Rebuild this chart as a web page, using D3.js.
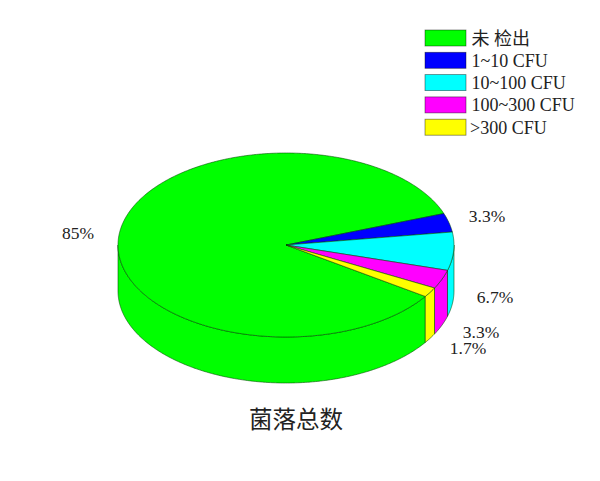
<!DOCTYPE html>
<html>
<head>
<meta charset="utf-8">
<script src="https://cdn.jsdelivr.net/npm/d3@7"></script>
<style>
  html, body { margin: 0; padding: 0; background: #fff; }
  text { font-family: "Liberation Serif", "Noto Sans CJK SC", serif; fill: #222; }
</style>
</head>
<body>
<svg id="chart" width="600" height="481"></svg>
<script>
// Define chart data
const categories = ["未 检出", "1~10 CFU", "10~100 CFU", "100~300 CFU", ">300 CFU"];
const percents = [85, 3.3, 6.7, 3.3, 1.7];
const percentLabels = ["85%", "3.3%", "6.7%", "3.3%", "1.7%"];
const colors = ["#00ff00", "#0000ff", "#00ffff", "#ff00ff", "#ffff00"];
const chartTitle = "菌落总数";

// layout
const WIDTH = 600;
const HEIGHT = 481;
const CENTER_X = 286;
const CENTER_Y = 245;
const RADIUS_X = 168;
const RADIUS_Y = 92;
const DEPTH = 46;
const STROKE = "rgba(0,70,0,0.7)";

const labelPositions = [[78, 239], [487, 222], [495, 303], [481, 338], [468, 354]];

const svg = d3.select("#chart");

// unit circle -> flattened ellipse on screen
const xScale = d3.scaleLinear([-1, 1], [CENTER_X - RADIUS_X, CENTER_X + RADIUS_X]);
const yScale = d3.scaleLinear([-1, 1], [CENTER_Y - RADIUS_Y, CENTER_Y + RADIUS_Y]);

const px = a => xScale(Math.sin(a));
const py = a => yScale(-Math.cos(a));

const pie = d3.pie()
    .sort(null)
    .startAngle(124 * Math.PI / 180)
    .endAngle((124 + 360) * Math.PI / 180);

const slices = pie(percents).map((d, i) => ({...d, color: colors[i]}));

// trace the rim from a0 to a1 with an offset
function traceRim(path, a0, a1, offset, moveFirst) {
    const steps = Math.max(2, Math.ceil(Math.abs(a1 - a0) / 0.01));
    d3.range(steps + 1).forEach(k => {
        const a = a0 + (a1 - a0) * k / steps;
        if (k === 0 && moveFirst) path.moveTo(px(a), py(a) + offset);
        else path.lineTo(px(a), py(a) + offset);
    });
}

function topPath(d) {
    const path = d3.path();
    path.moveTo(CENTER_X, CENTER_Y);
    traceRim(path, d.startAngle, d.endAngle, 0, false);
    path.closePath();
    return path.toString();
}

// the wall is only seen on the front half of the ellipse
function sideParts(d) {
    const parts = [];
    [[Math.PI / 2, 3 * Math.PI / 2], [5 * Math.PI / 2, 7 * Math.PI / 2]].forEach(([lo, hi]) => {
        const a0 = Math.max(d.startAngle, lo);
        const a1 = Math.min(d.endAngle, hi);
        if (a1 > a0) parts.push([a0, a1]);
    });
    return parts;
}

function sidePath([a0, a1]) {
    const path = d3.path();
    traceRim(path, a0, a1, 0, true);
    traceRim(path, a1, a0, DEPTH, false);
    path.closePath();
    return path.toString();
}

// walls first, then the top
svg.append("g")
    .selectAll("path")
    .data(slices.flatMap(d => sideParts(d).map(p => ({part: p, color: d.color}))))
    .enter()
    .append("path")
    .attr("d", d => sidePath(d.part))
    .attr("fill", d => d.color)
    .attr("stroke", STROKE)
    .attr("stroke-width", 0.8)
    .attr("stroke-linejoin", "round");

svg.append("g")
    .selectAll("path")
    .data(slices)
    .enter()
    .append("path")
    .attr("d", topPath)
    .attr("fill", d => d.color)
    .attr("stroke", STROKE)
    .attr("stroke-width", 0.8)
    .attr("stroke-linejoin", "round");

// percent labels
svg.append("g")
    .selectAll("text")
    .data(percentLabels)
    .enter()
    .append("text")
    .attr("x", (d, i) => labelPositions[i][0])
    .attr("y", (d, i) => labelPositions[i][1])
    .attr("text-anchor", "middle")
    .attr("font-size", 17.5)
    .text(d => d);

// legend
const legendScale = d3.scaleBand(categories, [27.5, 139]);

const legend = svg.append("g")
    .selectAll("g")
    .data(categories)
    .enter()
    .append("g")
    .attr("transform", d => `translate(425,${legendScale(d)})`);

legend.append("rect")
    .attr("y", 2.5)
    .attr("width", 41)
    .attr("height", 16)
    .attr("fill", (d, i) => colors[i])
    .attr("stroke", "rgba(0,0,0,0.5)")
    .attr("stroke-width", 0.8);

legend.append("text")
    .attr("x", (d, i) => i === 4 ? 45 : 46.5)
    .attr("y", 17)
    .attr("font-size", 18)
    .text(d => d);

// title
svg.append("text")
    .attr("x", 296)
    .attr("y", 428)
    .attr("text-anchor", "middle")
    .attr("font-size", 23.5)
    .text(chartTitle);
</script>
</body>
</html>
